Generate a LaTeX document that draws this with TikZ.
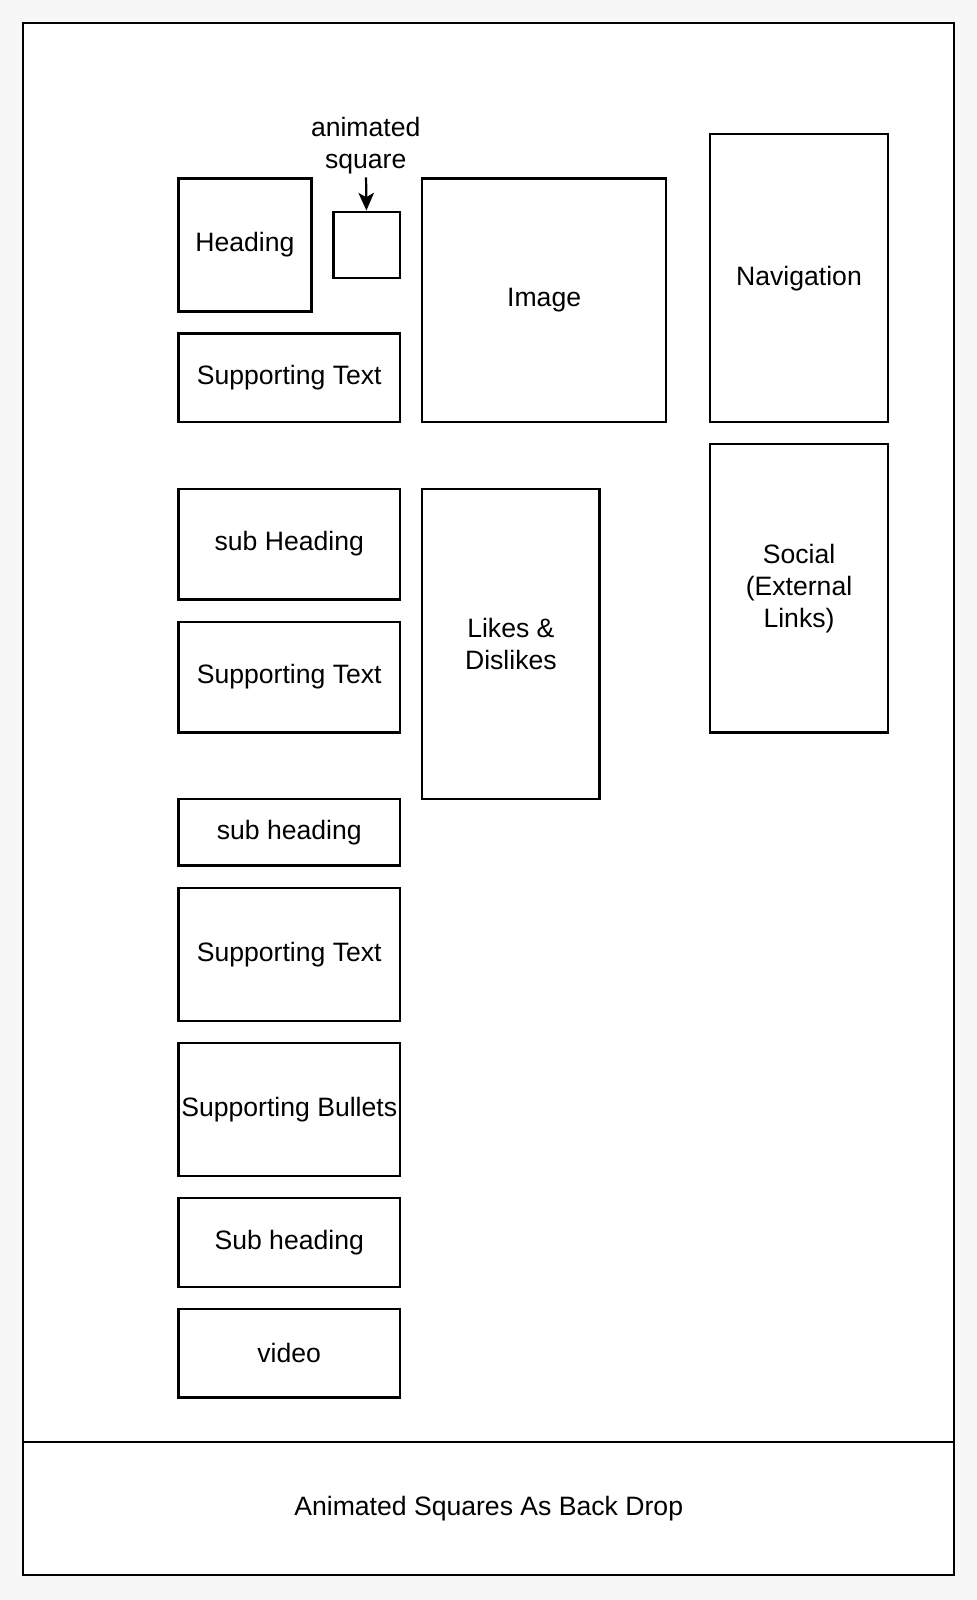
\documentclass[tikz,border=0pt]{standalone}
\usepackage{fontspec}
\setmainfont{Liberation Sans}
\usetikzlibrary{positioning, arrows.meta}
\definecolor{pagebg}{RGB}{247,247,247}

\begin{document}
\begin{tikzpicture}[x=1pt, y=-1pt, every node/.style={rectangle, draw, line width=1pt, anchor=north west, inner sep=1pt, align=center, font=\fontsize{12}{14.4}\selectfont}]
                    % Canvas
                    \fill[pagebg] (-10,-10) rectangle (430.8,711.9);
                    \useasboundingbox (-10,-10) rectangle (430.8,711.9);

                    % Frame
                    \node[fill=white, minimum width=420pt, minimum height=640pt] (page) at (0,0) {};
                    \node[fill=white, minimum width=420pt, minimum height=60pt] (backdrop) at (0,640) {Animated Squares As Back Drop};

                    % Top row
                    \node[minimum width=60pt, minimum height=60pt] (heading) at (70,70) {Heading};
                    \node[minimum width=30pt, minimum height=30pt] (asquare) at (140,85) {};
                    \node[draw=none, anchor=south] (sqlabel) at (155,70) {animated\\square};
                    \node[minimum width=100pt, minimum height=40pt] (text1) at (70,140) {Supporting Text};
                    \node[minimum width=110pt, minimum height=110pt] (image) at (180,70) {Image};
                    \node[minimum width=80pt, minimum height=130pt] (nav) at (310,50) {Navigation};

                    % Middle row
                    \node[minimum width=100pt, minimum height=50pt] (subhead1) at (70,210) {sub Heading};
                    \node[minimum width=100pt, minimum height=50pt] (text2) at (70,270) {Supporting Text};
                    \node[minimum width=80pt, minimum height=140pt] (likes) at (180,210) {Likes \&\\Dislikes};
                    \node[minimum width=80pt, minimum height=130pt] (social) at (310,190) {Social\\(External\\Links)};

                    % Lower column
                    \node[minimum width=100pt, minimum height=30pt] (subhead2) at (70,350) {sub heading};
                    \node[minimum width=100pt, minimum height=60pt] (text3) at (70,390) {Supporting Text};
                    \node[minimum width=100pt, minimum height=60pt] (bullets) at (70,460) {Supporting Bullets};
                    \node[minimum width=100pt, minimum height=40pt] (subhead3) at (70,530) {Sub heading};
                    \node[minimum width=100pt, minimum height=40pt] (video) at (70,580) {video};

                    % label to animated square
                    \draw[line width=1pt, -{Stealth[length=8pt, width=7pt, inset=2pt]}] (sqlabel) -- (asquare);

                \end{tikzpicture}
\end{document}
